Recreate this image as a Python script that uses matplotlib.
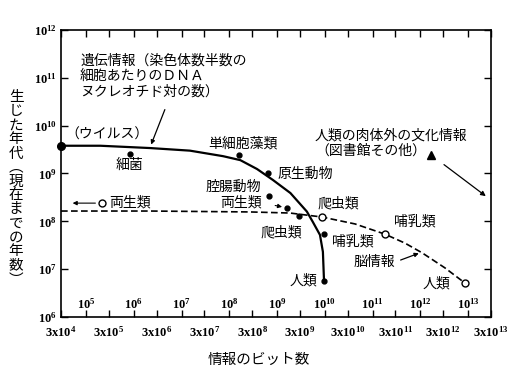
import matplotlib
matplotlib.use('Agg')
import matplotlib.pyplot as plt
from matplotlib.ticker import NullLocator, NullFormatter
import matplotlib.transforms as mtransforms

plt.rcParams['font.family'] = ['Noto Sans CJK JP', 'DejaVu Sans']
plt.rcParams['mathtext.fontset'] = 'custom'
plt.rcParams['mathtext.rm'] = 'Liberation Serif:bold'
plt.rcParams['mathtext.default'] = 'rm'

# genetic information curve (solid)
gene_x = [3.0e4, 2.0e5, 2.2e6, 1.5e7, 7.4e7, 1.7e8, 3.8e8, 8.2e8, 1.9e9, 4.2e9, 5.6e9, 7.9e9, 9.1e9, 9.6e9]
gene_y = [3.8e9, 3.8e9, 3.4e9, 3.0e9, 2.3e9, 1.9e9, 1.24e9, 7.3e8, 3.9e8, 1.6e8, 9.7e7, 5.2e7, 2.3e7, 5.7e6]

# organisms on the genetic curve (filled dots)
gene_names = ['細菌', '単細胞藻類', '原生動物', '腔腸動物', '両生類', '爬虫類', '哺乳類', '人類']
gene_pt_x = [8.3e5, 1.6e8, 6.5e8, 6.8e8, 1.6e9, 2.9e9, 9.6e9, 9.6e9]
gene_pt_y = [2.6e9, 2.4e9, 1.03e9, 3.4e8, 1.9e8, 1.3e8, 5.4e7, 5.7e6]
virus_x, virus_y = 3.0e4, 3.8e9

# brain information curve (dashed)
brain_x = [3.0e4, 2.2e6, 2.7e8, 1.86e9, 8.7e9, 4.3e10, 1.8e11, 4.75e11, 1.08e12, 3.27e12, 8.6e12]
brain_y = [1.64e8, 1.64e8, 1.57e8, 1.49e8, 1.23e8, 8.8e7, 5.4e7, 3.5e7, 2.2e7, 1.06e7, 5.1e6]

# open circles for brain information
brain_names = ['両生類', '爬虫類', '哺乳類', '人類']
brain_pt_x = [2.2e5, 8.7e9, 1.8e11, 8.6e12]
brain_pt_y = [2.4e8, 1.23e8, 5.4e7, 5.1e6]

# extrasomatic cultural information (triangle)
culture_x, culture_y = 1.66e12, 2.4e9

x_bottom_exp = list(range(4, 14))   # 3x10^n labels under the axis
x_inner_exp = list(range(5, 14))    # 10^n labels inside the axes
y_exp = list(range(6, 13))

fig = plt.figure(figsize=(5.2, 3.77), dpi=100)
ax = fig.add_axes([0.1173, 0.1592, 0.8269, 0.7613])
ax.set_xscale('log')
ax.set_yscale('log')
ax.set_xlim(3e4, 3e13)
ax.set_ylim(1e6, 1e12)

ax.plot(gene_x, gene_y, color='black', lw=1.6, clip_on=False)
ax.plot(brain_x, brain_y, color='black', lw=1.2, ls=(0, (4, 2)), clip_on=False)
ax.plot(gene_pt_x, gene_pt_y, 'o', color='black', ms=3.5, clip_on=False)
ax.plot(virus_x, virus_y, 'o', color='black', ms=5.5, clip_on=False, zorder=5)
ax.plot(brain_pt_x, brain_pt_y, 'o', mfc='white', mec='black', mew=1.0, ms=5, zorder=5)
ax.plot(culture_x, culture_y, '^', color='black', ms=6)

# labels for the dots
gene_lab_pos = [(8.3e5, 1.5e9), (1.9e8, 4.3e9), (1.0e9, 9.8e8), (1.2e8, 5.2e8),
                (1.76e8, 2.5e8), (1.2e9, 6.0e7), (3.9e10, 3.7e7), (3.5e9, 5.9e6)]
for name, (tx, ty) in zip(gene_names, gene_lab_pos):
    ha = 'left' if name == '原生動物' else 'center'
    ax.text(tx, ty, name, ha=ha, va='center', fontsize=10)
ax.annotate('', xy=(1.45e9, 1.95e8), xytext=(8.0e8, 2.2e8),
            arrowprops=dict(arrowstyle='-|>', color='black', lw=0.8, mutation_scale=6))

brain_lab_pos = [(8.3e5, 2.5e8), (1.9e10, 2.4e8), (7.7e11, 9.7e7), (2.2e12, 5.1e6)]
for name, (tx, ty) in zip(brain_names, brain_lab_pos):
    ax.text(tx, ty, name, ha='center', va='center', fontsize=10)
ax.annotate('', xy=(4.6e4, 2.4e8), xytext=(1.8e5, 2.4e8),
            arrowprops=dict(arrowstyle='-|>', color='black', lw=0.8, mutation_scale=6))

ax.text(2.75e5, 6.4e9, '（ウイルス）', ha='center', va='center', fontsize=10)
ax.text(7.5e4, 1.1e11, '遺伝情報（染色体数半数の\n細胞あたりのＤＮＡ\nヌクレオチド対の数）',
        ha='left', va='center', fontsize=10, linespacing=1.15)
ax.annotate('', xy=(2.2e6, 3.55e9), xytext=(4.7e6, 2.45e10),
            arrowprops=dict(arrowstyle='-|>', color='black', lw=0.9, mutation_scale=6))

ax.text(1.07e11, 1.4e7, '脳情報', ha='center', va='center', fontsize=10)
ax.annotate('', xy=(1.05e12, 2.25e7), xytext=(3.4e11, 1.48e7),
            arrowprops=dict(arrowstyle='-|>', color='black', lw=0.9, mutation_scale=6))

ax.text(6.2e9, 4.3e9, '人類の肉体外の文化情報\n（図書館その他）', ha='left', va='center',
        fontsize=10, linespacing=1.15)
ax.annotate('', xy=(2.6e13, 3.1e8), xytext=(2.8e12, 1.66e9),
            arrowprops=dict(arrowstyle='-|>', color='black', lw=0.9, mutation_scale=7))

# axes, ticks
ax.set_xticks([3 * 10 ** n for n in x_bottom_exp])
ax.set_xticklabels([f'$3\\mathrm{{x}}10^{{{n}}}$' for n in x_bottom_exp], fontsize=9)
ax.set_xticks([10 ** n for n in x_inner_exp], minor=True)
ax.xaxis.set_minor_formatter(NullFormatter())
ax.set_yticks([10 ** n for n in y_exp])
ax.set_yticklabels([f'$10^{{{n}}}$' for n in y_exp], fontsize=9)
ax.yaxis.set_minor_locator(NullLocator())
ax.tick_params(which='both', direction='in', length=5, width=1, top=True, right=True)
ax.tick_params(axis='x', pad=5.5)
ax.tick_params(axis='y', pad=3)
for sp in ax.spines.values():
    sp.set_linewidth(1.2)

trans = mtransforms.blended_transform_factory(ax.transData, ax.transAxes)
for n in x_inner_exp:
    ax.text(10 ** n, 0.045, f'$10^{{{n}}}$', transform=trans, ha='center', va='center', fontsize=9)

fig.text(0.497, 0.045, '情報のビット数', ha='center', va='center', fontsize=10.5)
ylab = '生じた年代︵現在までの年数︶'
fig.text(0.031, 0.5, '\n'.join(ylab), ha='center', va='center', fontsize=10.5, linespacing=1.0)

fig.savefig('out.png', dpi=100)
